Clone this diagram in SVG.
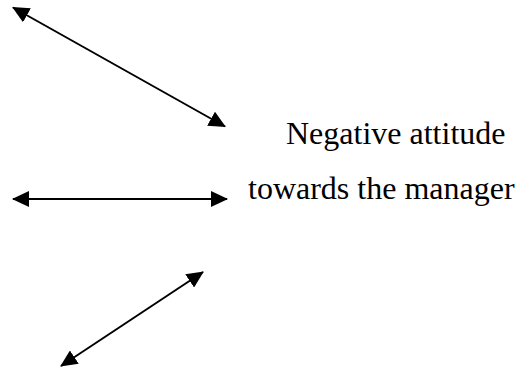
<svg xmlns="http://www.w3.org/2000/svg" width="521" height="368" viewBox="0 0 521 368">
  <defs>
    <marker id="ah" markerUnits="userSpaceOnUse" markerWidth="17" markerHeight="16" refX="16" refY="8" orient="auto-start-reverse" viewBox="0 0 17 16">
      <path d="M0,0 L17,8 L0,16 z" fill="#000"/>
    </marker>
    <style>
      .conn { stroke:#000; stroke-width:2; fill:none; marker-start:url(#ah); marker-end:url(#ah); }
      .lbl { font-family:"Liberation Serif","Times New Roman",serif; font-size:32px; fill:#000; }
    </style>
  </defs>
  <rect width="521" height="368" fill="#fff"/>
  <g id="connectors">
    <line class="conn" x1="13" y1="7.5" x2="225" y2="126.5"/>
    <line class="conn" x1="13" y1="199" x2="227" y2="199"/>
    <line class="conn" x1="203" y1="272" x2="61" y2="366"/>
  </g>
  <g id="label">
    <text class="lbl" x="286" y="144">Negative attitude</text>
    <text class="lbl" x="248" y="199">towards the manager</text>
  </g>
</svg>
